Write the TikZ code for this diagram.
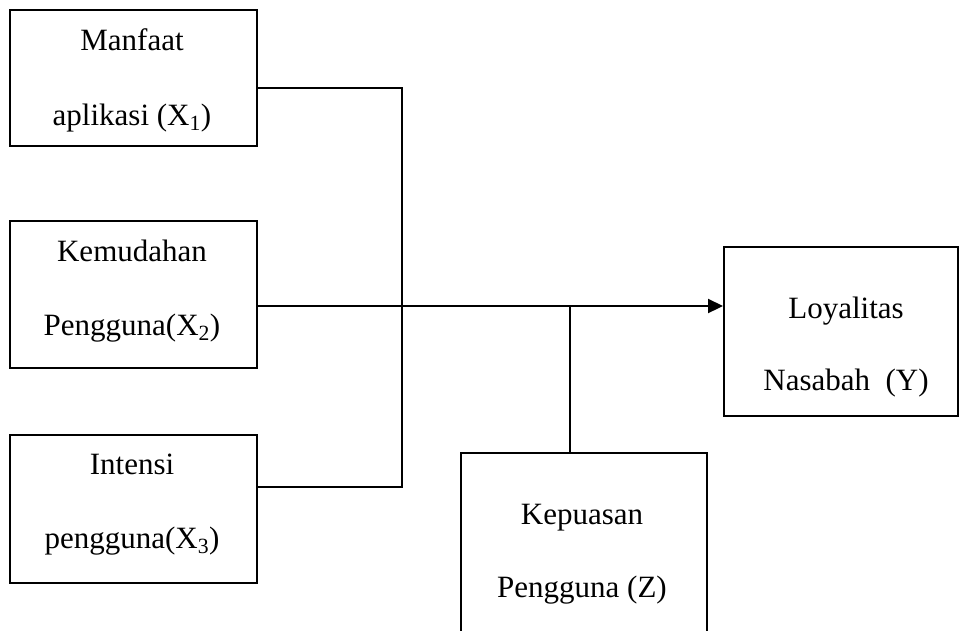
\documentclass[tikz,border=0pt]{standalone}
\usepackage{fontspec}
\setmainfont{Liberation Serif}
\usetikzlibrary{arrows.meta}
\begin{document}
\begin{tikzpicture}[x=1pt,y=-1pt,
  box/.style={draw, line width=1.6pt, inner sep=0pt, anchor=north west},
  lbl/.style={anchor=base, inner sep=0pt, font=\fontsize{31}{36}\selectfont},
  conn/.style={line width=1.6pt},
  mainconn/.style={line width=2.2pt, -{Triangle[length=15pt,width=14pt]}}]
\useasboundingbox (0,0) rectangle (960,630);
\clip (0,0) rectangle (960,630);
% boxes
\node[box, minimum width=247pt, minimum height=136pt] (b1) at (9,9) {};
\node[box, minimum width=247pt, minimum height=147pt] (b2) at (9,220) {};
\node[box, minimum width=247pt, minimum height=148pt] (b3) at (9,434) {};
\node[box, minimum width=234pt, minimum height=169pt] (by) at (723,246) {};
\node[box, minimum width=246pt, minimum height=220pt] (bz) at (460,452) {};
% labels
\node[lbl] (t1a) at (132,50) {Manfaat};
\node[lbl] (t1b) at (132,125) {aplikasi (X\textsubscript{1})};
\node[lbl] (t2a) at (132,261) {Kemudahan};
\node[lbl] (t2b) at (132,335) {Pengguna(X\textsubscript{2})};
\node[lbl] (t3a) at (132,474) {Intensi};
\node[lbl] (t3b) at (132,548) {pengguna(X\textsubscript{3})};
\node[lbl] (tya) at (846,318) {Loyalitas};
\node[lbl] (tyb) at (846,390) {Nasabah~~(Y)};
\node[lbl] (tza) at (582,524) {Kepuasan};
\node[lbl] (tzb) at (582,597) {Pengguna (Z)};
% junctions
\coordinate (j1) at (402,88);
\coordinate (j2) at (402,306);
\coordinate (j3) at (402,487);
\coordinate (jz) at (570,306);
% connectors
\draw[conn] (b1.east |- j1) -- (j1) -- (j3) -- (b3.east |- j3);
\draw[conn] (b2.east |- j2) -- (j2);
\draw[mainconn] (j2) -- (by.west |- j2);
\draw[conn] (bz.north -| jz) -- (jz);
\end{tikzpicture}
\end{document}
